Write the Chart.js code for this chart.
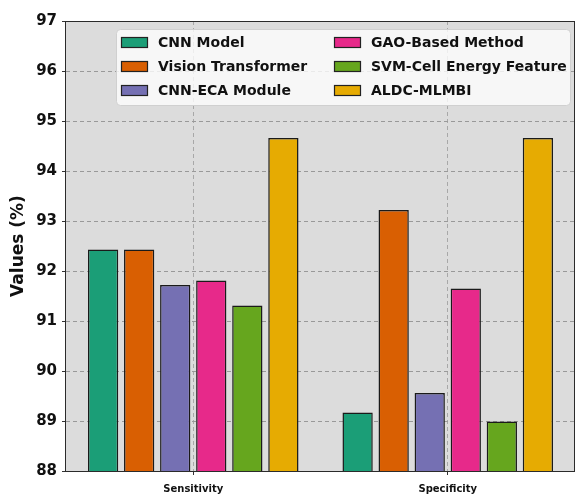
<!DOCTYPE html>
<html>
<head>
<meta charset="utf-8">
<script src="https://cdn.jsdelivr.net/npm/chart.js@4/dist/chart.umd.min.js"></script>
<style>
  html, body { margin: 0; padding: 0; background: #ffffff; }
  #wrap { width: 579px; height: 495px; position: relative; }
</style>
</head>
<body>
<div id="wrap"><canvas id="c" width="579" height="495"></canvas></div>
<script>
// Metrics compared across methods
const categories = ['Sensitivity', 'Specificity'];
const methods = ['CNN Model', 'Vision Transformer', 'CNN-ECA Module', 'GAO-Based Method', 'SVM-Cell Energy Feature', 'ALDC-MLMBI'];
const cnnModel = [92.43, 89.17];
const visionTransformer = [92.43, 93.22];
const cnnEca = [91.72, 89.56];
const gaoBased = [91.81, 91.65];
const svmCellEnergy = [91.31, 88.99];
const aldcMlmbi = [94.66, 94.66];
const yTicks = [88, 89, 90, 91, 92, 93, 94, 95, 96, 97];
const colors = ['#1b9e77', '#d95f02', '#7570b3', '#e7298a', '#66a61e', '#e6ab02'];

const seriesValues = [cnnModel, visionTransformer, cnnEca, gaoBased, svmCellEnergy, aldcMlmbi];
const FONT = "'DejaVu Sans', sans-serif";

// Plot background and outer frame
const framePlugin = {
  id: 'frame',
  beforeDraw(chart) {
    const { ctx, chartArea: a } = chart;
    ctx.save();
    ctx.fillStyle = '#dcdcdc';
    ctx.fillRect(a.left, a.top, a.right - a.left, a.bottom - a.top);
    ctx.restore();
  },
  afterDatasetsDraw(chart) {
    const { ctx, chartArea: a } = chart;
    ctx.save();
    ctx.strokeStyle = '#2b2b2b';
    ctx.lineWidth = 1;
    ctx.strokeRect(a.left - 0.5, a.top + 0.5, a.right - a.left, a.bottom - a.top);
    ctx.restore();
  }
};

// Two-column legend, filled column by column
const columnLegend = {
  id: 'columnLegend',
  afterDraw(chart) {
    const { ctx } = chart;
    const ds = chart.data.datasets;
    const box = { x: 116, y: 29, w: 454, h: 76 };
    ctx.save();
    ctx.beginPath();
    ctx.roundRect(box.x + 0.5, box.y + 0.5, box.w, box.h, 4);
    ctx.fillStyle = 'rgba(255,255,255,0.78)';
    ctx.fill();
    ctx.strokeStyle = '#d0d0d0';
    ctx.lineWidth = 1;
    ctx.stroke();
    ctx.font = "bold 14px " + FONT;
    ctx.textBaseline = 'middle';
    const colX = [121, 334];
    const rowY = [42, 66, 90];
    ds.forEach((d, i) => {
      const col = Math.floor(i / 3), row = i % 3;
      const x = colX[col], y = rowY[row];
      ctx.fillStyle = d.backgroundColor;
      ctx.fillRect(x, y - 5, 27, 11);
      ctx.strokeStyle = '#222';
      ctx.lineWidth = 1.2;
      ctx.strokeRect(x + 0.5, y - 4.5, 26, 10);
      ctx.fillStyle = '#111';
      ctx.fillText(d.label, x + 37, y + 1);
    });
    ctx.restore();
  }
};

new Chart(document.getElementById('c'), {
  type: 'bar',
  data: {
    labels: categories,
    datasets: methods.map((m, i) => ({
      label: m,
      data: seriesValues[i],
      backgroundColor: colors[i],
      borderColor: '#1a1a1a',
      borderWidth: 1.5,
      borderSkipped: false,
      categoryPercentage: 0.85,
      barPercentage: 0.84
    }))
  },
  options: {
    responsive: false,
    animation: false,
    devicePixelRatio: 1,
    layout: { padding: { top: 21, right: 4, left: 0, bottom: 0 } },
    plugins: {
      legend: { display: false },
      tooltip: { enabled: false }
    },
    scales: {
      x: {
        grid: {
          offset: false,
          color: '#a8a8a8',
          lineWidth: 1,
          tickLength: 4,
          tickColor: '#333',
          tickBorderDash: []
        },
        border: { display: false, dash: [4, 3] },
        ticks: {
          color: '#111',
          font: { family: FONT, size: 10, weight: 'bold' },
          padding: 8
        },
        afterFit(scale) { scale.height = 24; }
      },
      y: {
        min: 88,
        max: 97,
        afterBuildTicks(scale) { scale.ticks = yTicks.map(v => ({ value: v })); },
        grid: {
          color: '#999999',
          lineWidth: 1,
          tickLength: 4,
          tickColor: '#333',
          tickBorderDash: []
        },
        border: { display: false, dash: [4, 3] },
        ticks: {
          color: '#111',
          font: { family: FONT, size: 15, weight: 'bold' },
          padding: 5
        },
        title: {
          display: true,
          text: 'Values (%)',
          color: '#111',
          font: { family: FONT, size: 17, weight: 'bold' },
          padding: { top: 8, bottom: 0 }
        },
        afterFit(scale) { scale.width = 66; }
      }
    }
  },
  plugins: [framePlugin, columnLegend]
});
</script>
</body>
</html>
